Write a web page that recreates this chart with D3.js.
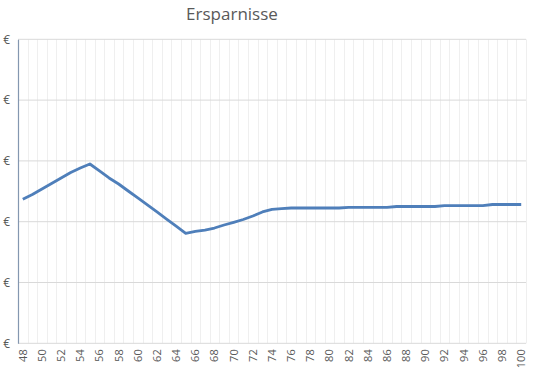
<!DOCTYPE html>
<html><head><meta charset="utf-8">
<script src="https://cdn.jsdelivr.net/npm/d3@7"></script>
<style>body{margin:0;background:#fff}svg{display:block}</style>
</head><body><svg id="c" width="535" height="373"></svg>
<script>
const title = "Ersparnisse";
const ages = d3.range(48, 101);
const savings = [
  2.368, 2.447, 2.538, 2.628, 2.719, 2.809, 2.883, 2.949,
  2.834, 2.719, 2.620, 2.505, 2.390, 2.275, 2.160, 2.044, 1.929, 1.809,
  1.839, 1.863, 1.896, 1.946, 1.990, 2.036, 2.094, 2.160, 2.204, 2.214,
  2.225, 2.225, 2.225, 2.225, 2.225, 2.225,
  2.237, 2.237, 2.237, 2.237, 2.237,
  2.250, 2.250, 2.250, 2.250, 2.250,
  2.263, 2.263, 2.263, 2.263, 2.263,
  2.283, 2.283, 2.283, 2.283
];
const yTicks = [0, 1, 2, 3, 4, 5];
const yTickLabel = "€";

(function () {
const svg = d3.select("#c");
const pL = 18, pR = 526, pT = 39.3, pB = 343.3;
const x = d3.scaleBand().domain(ages).range([pL, pR]);
const y = d3.scaleLinear().domain([0, 5]).range([pB, pT]);
const font = "'Open Sans', 'Liberation Sans', sans-serif";

// vertical gridlines at category boundaries
svg.append("g").selectAll("line").data(ages.slice(1)).join("line")
  .attr("x1", d => Math.round(x(d)) + 0.5).attr("x2", d => Math.round(x(d)) + 0.5)
  .attr("y1", pT).attr("y2", pB)
  .attr("stroke", "#efefef").attr("stroke-width", 1);
svg.append("line").attr("x1", pR + 0.5).attr("x2", pR + 0.5)
  .attr("y1", pT).attr("y2", pB).attr("stroke", "#efefef");

// horizontal gridlines
svg.append("g").selectAll("line").data(yTicks).join("line")
  .attr("x1", pL).attr("x2", pR)
  .attr("y1", d => y(d)).attr("y2", d => y(d))
  .attr("stroke", "#d9d9d9").attr("stroke-width", 1);

// y axis
const yAxis = d3.axisLeft(y).tickValues(yTicks).tickFormat(() => yTickLabel).tickSize(0).tickPadding(8);
const gy = svg.append("g").attr("transform", `translate(${pL},0)`).call(yAxis);
gy.select(".domain").attr("stroke", "#8497b0").attr("stroke-width", 1.2);
gy.selectAll("text").attr("font-family", font).attr("font-size", 12).attr("fill", "#595959");

// x axis
const xAxis = d3.axisBottom(x).tickValues(ages.filter(a => a % 2 === 0)).tickSize(0).tickPadding(0);
const gx = svg.append("g").attr("transform", `translate(0,${pB})`).call(xAxis);
gx.select(".domain").remove();
gx.selectAll("text")
  .attr("font-family", font).attr("font-size", 11).attr("fill", "#595959")
  .attr("transform", "rotate(-90)")
  .attr("text-anchor", "end").attr("dy", "0.35em").attr("x", -6).attr("y", 0);

// line
const line = d3.line().x((d, i) => x(ages[i]) + x.bandwidth() / 2).y(d => y(d));
svg.append("path").datum(savings).attr("d", line)
  .attr("fill", "none").attr("stroke", "#4f7fba").attr("stroke-width", 2.8)
  .attr("stroke-linejoin", "round");

// title
svg.append("text").attr("x", 232).attr("y", 20).attr("text-anchor", "middle")
  .attr("font-family", font).attr("font-size", 17).attr("fill", "#595959").text(title);
})();
</script></body></html>
